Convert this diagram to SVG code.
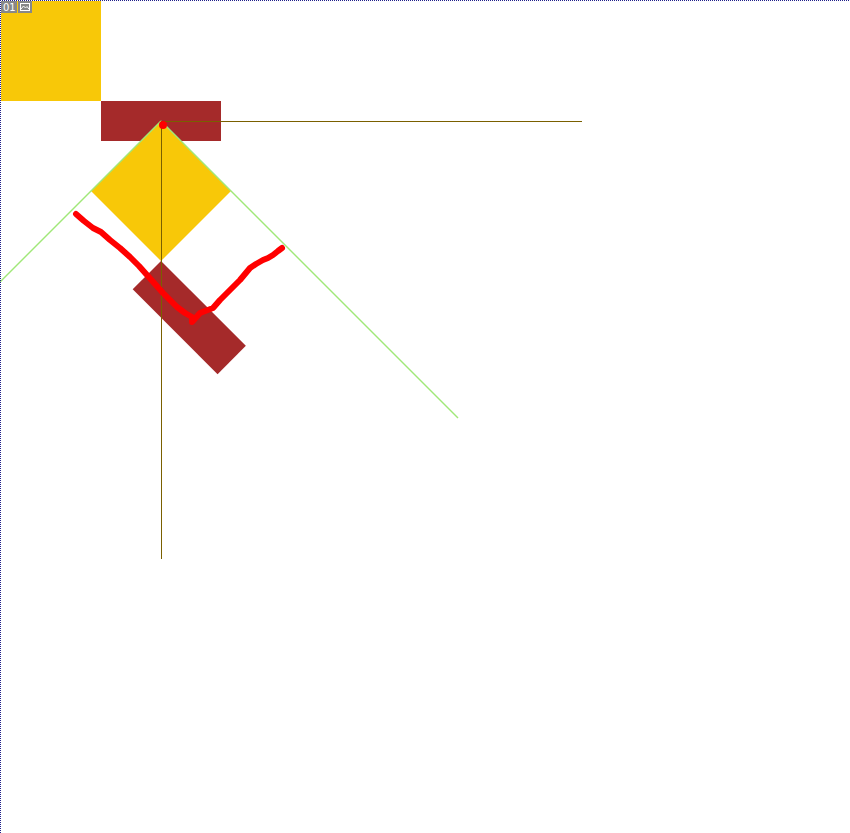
<svg xmlns="http://www.w3.org/2000/svg" width="850" height="833" viewBox="0 0 850 833">
<style>
.yellow{fill:#F8C808}
.brown{fill:#A52A2A}
.axis{stroke:#7A6000;stroke-width:1;fill:none}
.guide{stroke:#A0E878;stroke-width:1.4;fill:none}
.ink{stroke:#FF0000;stroke-width:6;fill:none;stroke-linecap:round;stroke-linejoin:round}
.badge{fill:#888888}
.badgetext{font-family:"DejaVu Sans",sans-serif;font-size:10px;fill:#FFFFFF}
</style>
<rect x="0" y="0" width="850" height="833" fill="#FFFFFF"/>
<g id="square1"><rect class="yellow" x="1" y="1" width="100" height="100"/></g>
<g id="rect1"><rect class="brown" x="101" y="101" width="120" height="40"/></g>
<g id="diamond"><rect class="yellow" x="0" y="0" width="99" height="99" transform="translate(161,121) rotate(45)"/></g>
<g id="connectors">
<line class="guide" x1="161" y1="121" x2="0" y2="282"/>
<line class="guide" x1="161" y1="121" x2="458" y2="418"/>
</g>
<g id="rect2"><rect class="brown" x="0" y="0" width="120" height="40" transform="translate(161,261) rotate(45)"/></g>
<g id="axes">
<line class="axis" x1="162" y1="121.5" x2="582" y2="121.5"/>
<line class="axis" x1="161.5" y1="121" x2="161.5" y2="559"/>
</g>
<g id="stroke">
<polyline class="ink" points="76,214 84,221 93,228 101,232 110,240 120,248 130,257 139,266 147,275 155,284 163,293 170,300 177,307 185,313 192,317 192,322 200,313 213,308 220,300 227,293 234,286 240,280 245,274 250,268 256,264 263,260 268,258 273,255 278,251 282,248"/>
<circle cx="163" cy="125" r="4" fill="#FF0000"/>
</g>
<g id="border">
<line x1="0" y1="0.5" x2="850" y2="0.5" stroke="#20208A" stroke-width="1" stroke-dasharray="1,1"/>
<line x1="0.5" y1="0" x2="0.5" y2="833" stroke="#20208A" stroke-width="1" stroke-dasharray="1,1"/>
</g>
<g id="badge">
<rect class="badge" x="1" y="1" width="16" height="12"/>
<text class="badgetext" x="3" y="11">01</text>
<rect class="badge" x="18" y="1" width="14" height="12"/>
<rect x="20.5" y="3.5" width="9" height="7" fill="none" stroke="#FFFFFF" stroke-width="1"/>
<polyline points="21,9 23.5,6 25.5,8 27,6.5 29,9" fill="none" stroke="#FFFFFF" stroke-width="1"/>
</g>
</svg>
